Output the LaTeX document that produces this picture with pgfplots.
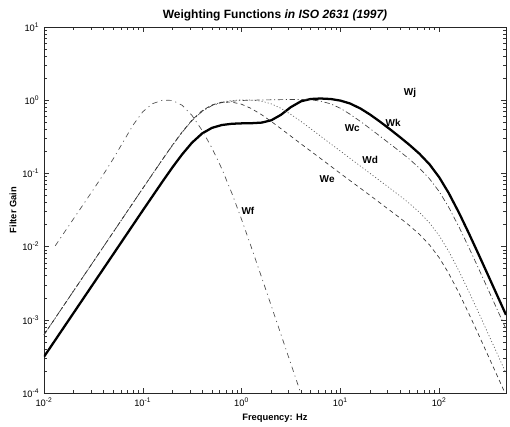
\documentclass[border=0pt]{standalone}
\usepackage{fontspec}
\setmainfont{Liberation Sans}
\usepackage{pgfplots}
\pgfplotsset{compat=1.18}
\begin{document}
\begin{tikzpicture}
\begin{axis}[
    xmode=log, ymode=log,
    scale only axis,
    width=346.5pt, height=274.5pt,
    xmin=0.01, xmax=475, ymin=1e-4, ymax=10,
    xtick={0.01,0.1,1,10,100},
    xticklabels={10\textsuperscript{-2},10\textsuperscript{-1},10\textsuperscript{0},10\textsuperscript{1},10\textsuperscript{2}},
    ytick={1e-4,1e-3,0.01,0.1,1,10},
    yticklabels={10\textsuperscript{-4},10\textsuperscript{-3},10\textsuperscript{-2},10\textsuperscript{-1},10\textsuperscript{0},10\textsuperscript{1}},
    tick align=inside,
    major tick length=3.5pt, minor tick length=2pt,
    every tick/.style={black!80, line width=0.4pt},
    axis line style={black!85, line width=0.5pt},
    ticklabel style={font=\fontsize{7}{8}\selectfont},
    xlabel={Frequency: Hz},
    ylabel={Filter Gain},
    x label style={at={(axis description cs:0.5,0)}, anchor=center, yshift=-18.75pt, font=\bfseries\fontsize{7}{8}\selectfont},
    y label style={at={(axis description cs:0,0.5)}, anchor=center, yshift=23.25pt, font=\bfseries\fontsize{7}{8}\selectfont},
    title={Weighting Functions \textit{in ISO 2631 (1997)}},
    title style={at={(axis description cs:0.5,1)}, anchor=center, yshift=3pt, font=\bfseries\fontsize{9}{10}\selectfont},
]

% Wk (thick solid)
\addplot[black, line width=1.7pt] coordinates {
(0.01,3.13e-4) (0.02,1.25e-3) (0.05,7.8e-3) (0.1,0.0312) (0.16,0.079) (0.2,0.1213)
(0.25,0.1817) (0.315,0.263) (0.4,0.3525) (0.5,0.4183) (0.63,0.458) (0.8,0.4767)
(1,0.4826) (1.25,0.4847) (1.6,0.4944) (2,0.532) (2.5,0.6307) (3.15,0.804) (4,0.967)
(5,1.039) (6.3,1.055) (8,1.038) (10,0.988) (12.5,0.903) (16,0.769) (20,0.636)
(25,0.513) (31.5,0.405) (40,0.314) (50,0.2454) (63,0.1863) (80,0.1328) (100,0.0887)
(125,0.0539) (160,0.0284) (200,0.01516) (250,0.0079) (315,0.00398) (400,0.00195) (475,0.00117)
};

% Wc (dash-dot)
\addplot[black!75, line width=0.5pt, dash pattern=on 4pt off 2pt on 0.8pt off 2pt] coordinates {
(0.01,6.25e-4) (0.02,2.5e-3) (0.05,0.0156) (0.1,0.0624) (0.16,0.158) (0.2,0.2425)
(0.25,0.364) (0.315,0.527) (0.4,0.707) (0.5,0.8425) (0.63,0.928) (0.8,0.971)
(1,0.991) (1.25,1.0005) (1.6,1.0066) (2,1.0125) (2.5,1.0177) (3.15,1.0229) (4,1.024)
(5,1.0121) (6.3,0.972) (8,0.891) (10,0.776) (12.5,0.645) (16,0.512) (20,0.409)
(25,0.325) (31.5,0.2557) (40,0.1994) (50,0.1567) (63,0.1184) (80,0.0842) (100,0.0566)
(125,0.0345) (160,0.0182) (200,0.0097) (250,0.00506) (315,0.00255) (400,0.00125) (475,0.00075)
};

% Wd (dotted)
\addplot[black!65, line width=0.5pt, dash pattern=on 0.8pt off 1.6pt] coordinates {
(0.01,6.25e-4) (0.02,2.5e-3) (0.05,0.0156) (0.1,0.0624) (0.16,0.158) (0.2,0.2427)
(0.25,0.364) (0.315,0.528) (0.4,0.708) (0.5,0.853) (0.63,0.944) (0.8,0.992)
(1,1.011) (1.25,1.007) (1.6,0.968) (2,0.891) (2.5,0.776) (3.15,0.64) (4,0.512)
(5,0.409) (6.3,0.323) (8,0.253) (10,0.202) (12.5,0.161) (16,0.1255) (20,0.1)
(25,0.0798) (31.5,0.0632) (40,0.0494) (50,0.0388) (63,0.0295) (80,0.021) (100,0.01414)
(125,0.00862) (160,0.00455) (200,0.002425) (250,0.001264) (315,0.000637) (400,0.000312) (475,0.000187)
};

% We (dashed)
\addplot[black!80, line width=0.5pt, dash pattern=on 3pt off 2.5pt] coordinates {
(0.01,6.25e-4) (0.02,2.5e-3) (0.05,0.0156) (0.1,0.0626) (0.16,0.159) (0.2,0.2446)
(0.25,0.368) (0.315,0.536) (0.4,0.723) (0.5,0.862) (0.63,0.939) (0.8,0.941)
(1,0.880) (1.25,0.772) (1.6,0.632) (2,0.512) (2.5,0.409) (3.15,0.323) (4,0.253)
(5,0.202) (6.3,0.160) (8,0.1255) (10,0.100) (20,0.050) (31.5,0.0315) (40,0.0247)
(50,0.0194) (63,0.01475) (80,0.01053) (100,0.00707) (125,0.00431) (160,0.002275)
(200,0.00121) (250,0.000632) (315,0.000318) (400,0.000156) (475,9.3e-5)
};

% Wf (dash-dot)
\addplot[black!70, line width=0.5pt, dash pattern=on 4pt off 3pt on 0.8pt off 3pt] coordinates {
(0.013,0.01025) (0.016,0.01553) (0.02,0.0242) (0.025,0.0377) (0.0315,0.0598)
(0.04,0.0971) (0.05,0.1566) (0.063,0.2665) (0.08,0.4607) (0.1,0.695) (0.125,0.895)
(0.16,1.0057) (0.2,0.992) (0.25,0.8544) (0.315,0.619) (0.4,0.3843) (0.5,0.2239)
(0.63,0.1163) (0.8,0.053) (1,0.02352) (1.25,0.00997) (1.6,0.00377) (2,0.00155)
(2.5,0.000636) (3.15,0.000252) (4,9.7e-5)
};

\begin{scope}[every node/.style={font=\bfseries\fontsize{7.5}{9}\selectfont}]
\node at (axis cs:50.8,1.25) {Wj};
\node at (axis cs:34.2,0.49) {Wk};
\node at (axis cs:13.2,0.417) {Wc};
\node at (axis cs:20,0.152) {Wd};
\node at (axis cs:7.35,0.0838) {We};
\node at (axis cs:1.16,0.0306) {Wf};
\end{scope}
\end{axis}
\pgfresetboundingbox
\path (current axis.south west) ++(-33pt,-24.75pt) coordinate (bl);
\path (current axis.north east) ++(3pt,20.25pt) coordinate (tr);
\useasboundingbox (bl) rectangle (tr);
\end{tikzpicture}
\end{document}
